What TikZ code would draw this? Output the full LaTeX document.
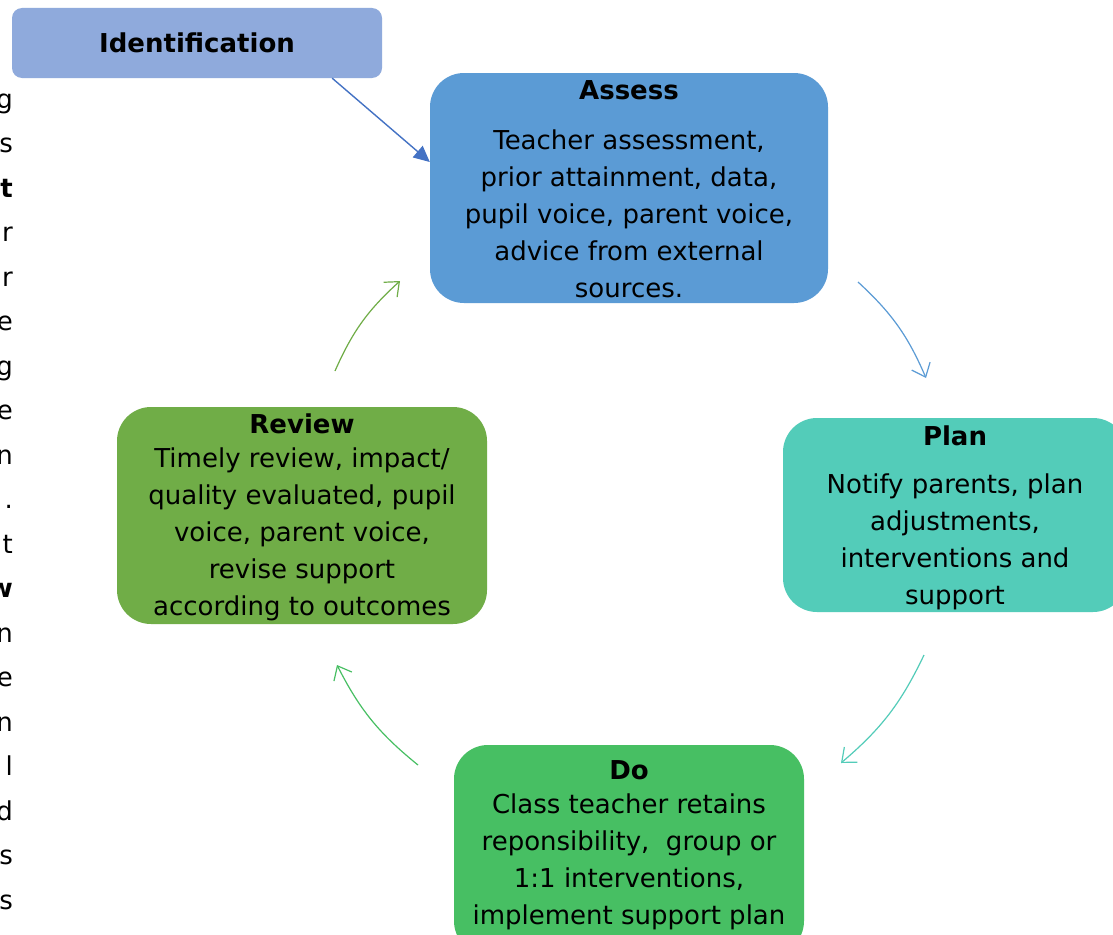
\documentclass[tikz,border=0pt]{standalone}
\usepackage{fontspec}
\setmainfont{DejaVu Sans}
\usetikzlibrary{arrows.meta}
\usetikzlibrary{positioning}
\definecolor{identblue}{RGB}{143,170,220}
\definecolor{identarrow}{RGB}{68,114,196}
\definecolor{assessblue}{RGB}{91,155,213}
\definecolor{planteal}{RGB}{83,204,185}
\definecolor{dogreen}{RGB}{71,191,99}
\definecolor{reviewgreen}{RGB}{112,173,71}

\begin{document}
\begin{tikzpicture}[x=1pt,y=-1pt,
    box/.style={rounded corners=34pt, inner sep=0pt},
    title/.style={font=\fontsize{26}{37}\selectfont\bfseries},
    body/.style={font=\fontsize{26}{37}\selectfont, align=center},
    cyclearrow/.style={line width=1.2pt, -{Straight Barb[length=12pt,width=20pt]}}]
  \clip (0,0) rectangle (1113,934);
  \fill[white] (0,0) rectangle (1113,934);

  % cut-off letters of the text on the left
  \foreach \ch [count=\i from 0] in {g,s,\textbf{t},r,r,e,g,e,n,.,t,\textbf{w},n,e,n,l,d,s,s}
    \node[anchor=base east, inner sep=0pt, font=\fontsize{26}{30}\selectfont] (edge\i) at (13,108+44.5*\i) {\ch};

  % boxes
  \node[box, rounded corners=10pt, fill=identblue, minimum width=370pt, minimum height=70pt] (ident) at (197,43) {};
  \node[box, fill=assessblue, minimum width=398pt, minimum height=230pt] (assess) at (629,188) {};
  \node[box, fill=planteal, minimum width=344pt, minimum height=194pt] (plan) at (955,515) {};
  \node[box, fill=dogreen, minimum width=350pt, minimum height=210pt] (do) at (629,850) {};
  \node[box, fill=reviewgreen, minimum width=370pt, minimum height=217pt] (review) at (302,515.5) {};

  % texts
  \node[title] (identt) at (ident) {Identification};
  \node[title] (assesst) at (629,90) {Assess};
  \node[body] (assessb) at (629,214) {Teacher assessment,\\prior attainment, data,\\pupil voice, parent voice,\\advice from external\\sources.};
  \node[title] (plant) at (955,436) {Plan};
  \node[body] (planb) at (955,541.5) {Notify parents, plan\\adjustments,\\interventions and\\support};
  \node[title] (dot) at (629,770) {Do};
  \node[body] (dob) at (629,861.5) {Class teacher retains\\reponsibility,\ \ group or\\1:1 interventions,\\implement support plan};
  \node[title] (reviewt) at (302,424) {Review};
  \node[body] (reviewb) at (302,534) {Timely review, impact/\\quality evaluated, pupil\\voice, parent voice,\\revise support\\according to outcomes};

  % arrows
  \draw[line width=1.4pt, identarrow, -{Triangle[length=16pt,width=15pt]}] ([xshift=-50pt]ident.south east) -- ([yshift=26pt]assess.west);
  \coordinate (a2p s) at (858,282);
  \coordinate (a2p e) at (926,378);
  \coordinate (p2d s) at (924,655);
  \coordinate (p2d e) at (841,763);
  \coordinate (d2r s) at (418,765);
  \coordinate (d2r e) at (337,665);
  \coordinate (r2a s) at (335,371);
  \coordinate (r2a e) at (400,281);
  \draw[cyclearrow, assessblue] (a2p s) to[bend left=12] (a2p e);
  \draw[cyclearrow, planteal] (p2d s) to[bend left=12] (p2d e);
  \draw[cyclearrow, dogreen] (d2r s) to[bend left=12] (d2r e);
  \draw[cyclearrow, reviewgreen] (r2a s) to[bend left=12] (r2a e);
\end{tikzpicture}
\end{document}
